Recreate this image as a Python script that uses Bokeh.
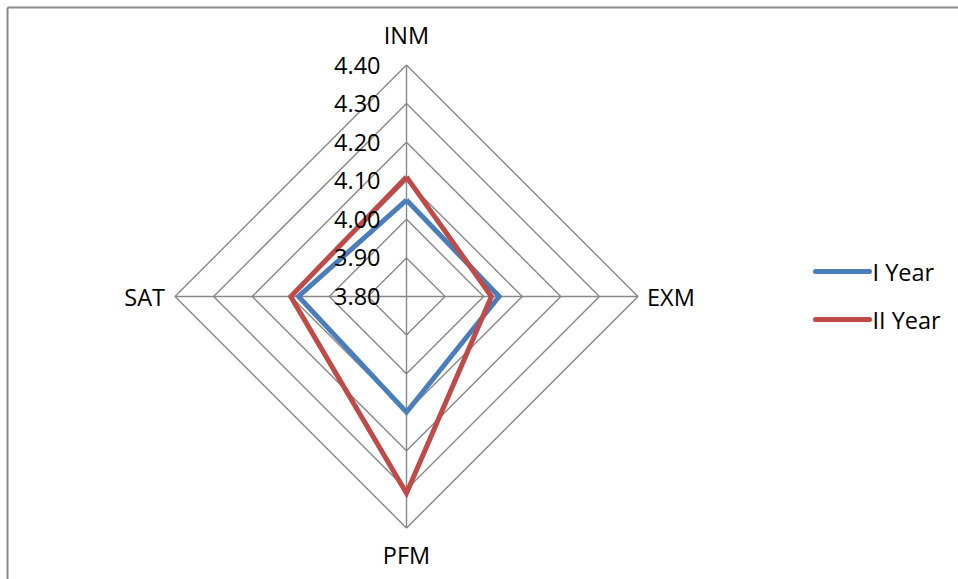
from bokeh.plotting import figure
from bokeh.models import Range1d
from bokeh.core.properties import value
from bokeh.embed import file_html
from bokeh.resources import INLINE

# Radar chart data
categories = ["INM", "EXM", "PFM", "SAT"]
year1 = [4.05, 4.04, 4.10, 4.08]
year2 = [4.11, 4.02, 4.31, 4.10]
series_names = ["I Year", "II Year"]
series_colors = ["#4A7EBB", "#BE4B48"]
ring_values = [3.80, 3.90, 4.00, 4.10, 4.20, 4.30, 4.40]
tick_labels = ["3.80", "3.90", "4.00", "4.10", "4.20", "4.30", "4.40"]

W, H = 958, 579
CX, CY = 406, 296          # chart centre in page pixels
R = 231.5                  # radius of the outer ring
vmin, vmax = ring_values[0], ring_values[-1]
FONT = value("Open Sans")
FS = "23.5px"

# data space: origin at chart centre, y up, 1 unit = 1 pixel
p = figure(width=W, height=H, output_backend="svg", toolbar_location=None,
           x_range=Range1d(-CX, W - CX), y_range=Range1d(CY - H, CY),
           min_border=0, background_fill_color="white", border_fill_color="white")
p.axis.visible = False
p.grid.visible = False
p.outline_line_color = None

# spoke directions: top, right, bottom, left
dirs = [(0, 1), (1, 0), (0, -1), (-1, 0)]


def rad(v):
    return (v - vmin) / (vmax - vmin) * R


def polygon(vals):
    xs = [dx * rad(v) for v, (dx, dy) in zip(vals, dirs)]
    ys = [dy * rad(v) for v, (dx, dy) in zip(vals, dirs)]
    return xs + xs[:1], ys + ys[:1]


grid_color = "#888888"
# concentric rings
for v in ring_values[1:]:
    xs, ys = polygon([v] * 4)
    p.line(xs, ys, line_color=grid_color, line_width=1.4)
# spokes
p.segment(x0=[0] * 4, y0=[0] * 4,
          x1=[dx * R for dx, dy in dirs], y1=[dy * R for dx, dy in dirs],
          line_color=grid_color, line_width=1.4)

# chart frame (top and left edges)
p.segment(x0=[7 - CX, 7 - CX], y0=[CY - 7, CY - 7],
          x1=[W - CX, 7 - CX], y1=[CY - 7, CY - H],
          line_color="#8a8a8a", line_width=2)

# series
for vals, col in zip([year1, year2], series_colors):
    xs, ys = polygon(vals)
    p.line(xs, ys, line_color=col, line_width=5, line_join="miter")

# value axis labels along the top spoke
p.text(x=[-26] * len(ring_values), y=[rad(v) for v in ring_values], text=tick_labels,
       text_align="right", text_baseline="middle", text_font=FONT,
       text_font_size=FS, text_color="#000000")

# category labels
cat_x = [0, R + 9, 0, -R - 10]
cat_y = [R + 30, 0, -R - 27, 0]
aligns = ["center", "left", "center", "right"]
for c, x, y, a in zip(categories, cat_x, cat_y, aligns):
    p.text(x=[x], y=[y], text=[c], text_align=a, text_baseline="middle",
           text_font=FONT, text_font_size=FS, text_color="#000000")

# legend
leg_y = [CY - 271, CY - 319]
p.segment(x0=[815 - CX] * 2, y0=leg_y, x1=[869 - CX] * 2, y1=leg_y,
          line_color=series_colors, line_width=5, line_cap="round")
p.text(x=[872 - CX] * 2, y=leg_y, text=series_names, text_align="left",
       text_baseline="middle", text_font=FONT, text_font_size=FS, text_color="#000000")

open("out.html", "w").write(file_html(p, INLINE))
